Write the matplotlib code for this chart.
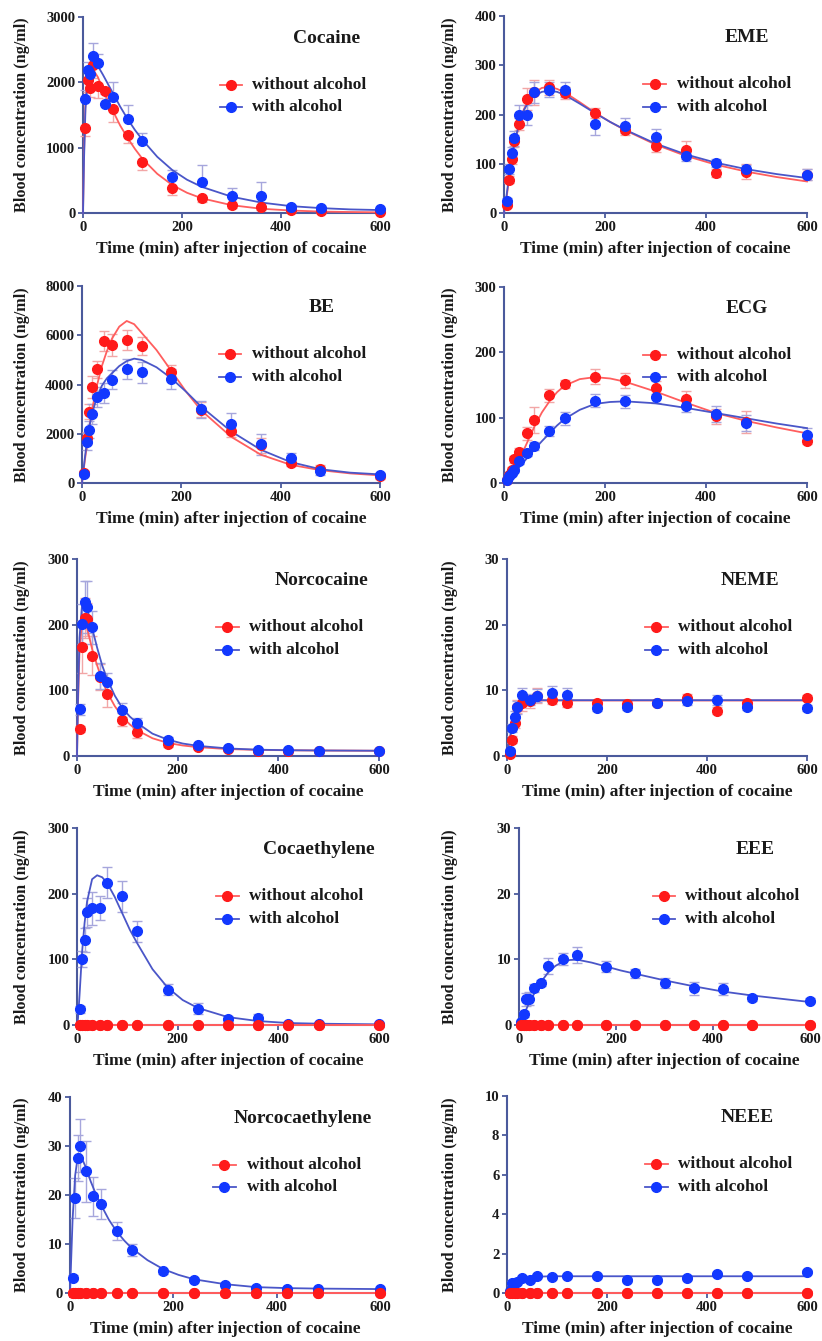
import matplotlib
matplotlib.use("Agg")
import matplotlib.pyplot as plt

plt.rcParams["font.family"] = ["Liberation Serif", "DejaVu Serif"]
plt.rcParams["font.weight"] = "bold"

# ── Sampling times (min) ─────────────────────────────────────────────────────
T = [5, 10, 15, 20, 30, 45, 60, 90, 120, 180, 240, 300, 360, 420, 480, 600]
CURVE_T = [0, 2, 5, 10, 15, 20, 30, 40, 50, 60, 75, 90, 105, 120, 150, 180,
           210, 240, 300, 360, 420, 480, 540, 600]

ZERO16 = [0] * 16
ZERO24 = [0] * 24

# ── Cocaine ──────────────────────────────────────────────────────────────────
COC_NO = [1300, 2030, 1920, 2260, 1940, 1870, 1590, 1195, 780, 380, 230, 130, 90, 40, 25, 10]
COC_NO_ERR = [120, 180, 150, 200, 180, 180, 200, 130, 120, 100, 60, 50, 40, 30, 20, 10]
COC_AL = [1740, 2190, 2125, 2400, 2290, 1670, 1780, 1435, 1100, 550, 480, 265, 265, 90, 75, 60]
COC_AL_ERR = [150, 120, 130, 200, 150, 150, 230, 215, 130, 110, 257, 115, 205, 30, 30, 20]
COC_NO_FIT = [0, 900, 1700, 2100, 2220, 2200, 2080, 1900, 1730, 1570, 1340, 1150,
              980, 830, 600, 430, 310, 225, 120, 65, 38, 22, 15, 10]
COC_AL_FIT = [0, 800, 1600, 2050, 2250, 2300, 2250, 2120, 1980, 1840, 1630, 1440,
              1270, 1120, 860, 660, 510, 400, 250, 160, 105, 75, 55, 45]

# ── EME ──────────────────────────────────────────────────────────────────────
EME_NO = [17, 68, 109, 147, 181, 231, 245, 255, 243, 203, 169, 136, 128, 81, 84, 78]
EME_NO_ERR = [5, 8, 10, 12, 12, 22, 25, 15, 12, 10, 10, 12, 18, 8, 15, 12]
EME_AL = [25, 89, 122, 152, 199, 199, 245, 250, 250, 180, 177, 155, 116, 101, 89, 78]
EME_AL_ERR = [5, 10, 12, 15, 20, 20, 22, 15, 15, 22, 15, 15, 10, 8, 8, 12]
EME_NO_FIT = [0, 12, 30, 70, 105, 135, 180, 212, 232, 244, 254, 256,
              252, 245, 225, 204, 185, 168, 139, 116, 98, 84, 73, 64]
EME_AL_FIT = [0, 15, 35, 75, 110, 140, 182, 210, 228, 238, 246, 248,
              246, 240, 222, 203, 185, 169, 141, 119, 102, 89, 79, 71]

# ── BE ───────────────────────────────────────────────────────────────────────
BE_NO = [400, 1830, 2890, 3900, 4610, 5760, 5590, 5800, 5560, 4490, 2980, 2120, 1530, 830, 580, 270]
BE_NO_ERR = [100, 250, 300, 450, 350, 400, 450, 400, 350, 300, 300, 250, 300, 150, 150, 100]
BE_AL = [380, 1670, 2170, 2790, 3500, 3660, 4200, 4620, 4490, 4230, 3000, 2410, 1570, 1000, 490, 310]
BE_AL_ERR = [100, 350, 350, 400, 400, 400, 400, 400, 420, 400, 350, 420, 420, 200, 150, 100]
BE_NO_FIT = [0, 300, 800, 1550, 2300, 2950, 3950, 4750, 5350, 5850, 6350, 6580,
             6450, 6100, 5400, 4550, 3700, 2950, 1880, 1150, 740, 520, 390, 310]
BE_AL_FIT = [0, 350, 900, 1700, 2300, 2800, 3500, 3950, 4250, 4450, 4750, 4950,
             5050, 5000, 4700, 4250, 3700, 3100, 2100, 1350, 850, 560, 420, 350]

# ── ECG ──────────────────────────────────────────────────────────────────────
ECG_NO = [5, 13, 20, 36, 47, 76, 96, 134, 151, 163, 157, 146, 128, 102, 93, 65]
ECG_NO_ERR = [2, 3, 4, 5, 6, 10, 20, 10, 6, 12, 12, 10, 13, 12, 17, 5]
ECG_AL = [4, 10, 15, 20, 34, 46, 57, 80, 99, 126, 125, 132, 118, 106, 92, 74]
ECG_AL_ERR = [2, 2, 3, 3, 5, 5, 6, 8, 10, 10, 10, 10, 10, 12, 12, 10]
ECG_NO_FIT = [0, 2, 5, 10, 16, 22, 37, 52, 69, 86, 108, 125,
              139, 149, 159, 162, 160, 155, 140, 123, 107, 95, 85, 76]
ECG_AL_FIT = [0, 1, 3, 6, 10, 14, 24, 33, 42, 51, 64, 76,
              88, 98, 112, 121, 124, 125, 122, 115, 107, 99, 91, 84]

# ── Norcocaine ───────────────────────────────────────────────────────────────
NCOC_NO = [41, 166, 210, 208, 153, 120, 94, 55, 36, 19, 13, 10, 8, 8, 8, 8]
NCOC_NO_ERR = [5, 40, 30, 25, 30, 20, 20, 10, 8, 5, 3, 2, 2, 1, 1, 1]
NCOC_AL = [71, 201, 234, 227, 196, 122, 112, 70, 50, 24, 16, 12, 9, 9, 8, 8]
NCOC_AL_ERR = [8, 30, 32, 40, 25, 20, 15, 10, 8, 5, 3, 2, 2, 1, 1, 1]
NCOC_NO_FIT = [0, 80, 160, 205, 208, 195, 163, 138, 115, 97, 76, 60,
               48, 39, 27, 20, 16, 13.5, 10.5, 9.3, 8.7, 8.4, 8.2, 8]
NCOC_AL_FIT = [0, 90, 180, 230, 236, 225, 195, 165, 138, 117, 92, 73,
               60, 50, 34, 25, 19, 15.5, 11.5, 9.6, 8.8, 8.4, 8.2, 8]

# ── NEME ─────────────────────────────────────────────────────────────────────
NEME_NO = [0.3, 2.5, 5.1, 7.5, 8.1, 8.3, 9.2, 8.6, 8.0, 8.1, 7.9, 8.1, 8.9, 6.9, 8.1, 8.9]
NEME_NO_ERR = [0.3, 0.5, 0.8, 1.0, 1.2, 1.0, 1.2, 0.7, 0.5, 0.5, 0.5, 0.4, 0.6, 0.5, 0.4, 0.4]
NEME_AL = [0.8, 4.2, 6.0, 7.4, 9.3, 8.6, 9.2, 9.6, 9.3, 7.3, 7.5, 8.1, 8.3, 8.5, 7.4, 7.3]
NEME_AL_ERR = [0.3, 0.6, 0.8, 1.0, 1.0, 0.8, 1.0, 1.1, 1.0, 0.5, 0.5, 0.4, 0.6, 0.8, 0.4, 0.4]
NEME_NO_FIT = [0, 1.0, 2.2, 4.2, 5.8, 6.9, 7.9, 8.3, 8.4, 8.45, 8.45, 8.45,
               8.45, 8.45, 8.45, 8.45, 8.45, 8.45, 8.45, 8.45, 8.45, 8.45, 8.45, 8.45]
NEME_AL_FIT = [0, 1.1, 2.5, 4.5, 6.1, 7.1, 8.0, 8.35, 8.45, 8.5, 8.5, 8.5,
               8.5, 8.5, 8.5, 8.5, 8.5, 8.5, 8.5, 8.5, 8.5, 8.5, 8.5, 8.5]

# ── Cocaethylene ─────────────────────────────────────────────────────────────
CE_AL = [24, 100, 129, 172, 178, 178, 217, 196, 143, 54, 25, 9, 10, 1.5, 1, 1]
CE_AL_ERR = [5, 12, 18, 22, 25, 18, 24, 24, 16, 8, 8, 4, 6, 2, 1, 1]
CE_AL_FIT = [0, 10, 45, 110, 155, 188, 222, 228, 225, 216, 195, 170,
             145, 124, 85, 57, 38, 26, 12, 6, 3, 2, 1.5, 1]

# ── EEE ──────────────────────────────────────────────────────────────────────
EEE_AL = [0.4, 1.7, 3.9, 4.0, 5.6, 6.4, 9.0, 10.1, 10.7, 8.9, 7.9, 6.4, 5.6, 5.5, 4.1, 3.7]
EEE_AL_ERR = [0.3, 0.5, 1.0, 1.0, 0.6, 0.5, 1.2, 0.9, 1.2, 0.8, 0.7, 0.8, 1.0, 0.9, 0.4, 0.4]
EEE_AL_FIT = [0, 0.3, 0.8, 1.6, 2.4, 3.2, 4.6, 5.9, 7.0, 8.0, 9.0, 9.6,
              9.9, 9.95, 9.5, 8.9, 8.3, 7.8, 6.8, 5.9, 5.1, 4.5, 4.0, 3.5]

# ── Norcocaethylene ──────────────────────────────────────────────────────────
NCE_AL = [3.1, 19.4, 27.6, 30.1, 24.8, 19.7, 18.2, 12.6, 8.8, 4.4, 2.6, 1.7, 1.0, 0.8, 0.8, 0.8]
NCE_AL_ERR = [0.5, 4.0, 4.7, 5.4, 6.3, 3.9, 3.1, 1.8, 1.2, 0.6, 0.4, 0.3, 0.2, 0.1, 0.1, 0.1]
NCE_AL_FIT = [0, 6, 15, 24, 27.8, 28.2, 25.8, 22.8, 20.2, 18.0, 15.0, 12.6,
              10.7, 9.1, 6.7, 4.9, 3.7, 2.8, 1.8, 1.2, 1.0, 0.9, 0.85, 0.8]

# ── NEEE ─────────────────────────────────────────────────────────────────────
NEEE_AL = [0.12, 0.5, 0.5, 0.55, 0.76, 0.64, 0.88, 0.8, 0.88, 0.88, 0.68, 0.68, 0.76, 0.98, 0.88, 1.06]
NEEE_AL_ERR = [0.05, 0.1, 0.1, 0.1, 0.1, 0.1, 0.1, 0.1, 0.1, 0.1, 0.1, 0.1, 0.1, 0.1, 0.1, 0.1]
NEEE_AL_FIT = [0, 0.06, 0.15, 0.32, 0.45, 0.55, 0.68, 0.76, 0.80, 0.82, 0.84, 0.85,
               0.85, 0.85, 0.85, 0.85, 0.85, 0.85, 0.85, 0.85, 0.85, 0.85, 0.85, 0.85]

# (title, ymax, ystep, no, no_err, no_fit, al, al_err, al_fit)
PANELS = [
    ("Cocaine", 3000, 1000, COC_NO, COC_NO_ERR, COC_NO_FIT, COC_AL, COC_AL_ERR, COC_AL_FIT),
    ("EME", 400, 100, EME_NO, EME_NO_ERR, EME_NO_FIT, EME_AL, EME_AL_ERR, EME_AL_FIT),
    ("BE", 8000, 2000, BE_NO, BE_NO_ERR, BE_NO_FIT, BE_AL, BE_AL_ERR, BE_AL_FIT),
    ("ECG", 300, 100, ECG_NO, ECG_NO_ERR, ECG_NO_FIT, ECG_AL, ECG_AL_ERR, ECG_AL_FIT),
    ("Norcocaine", 300, 100, NCOC_NO, NCOC_NO_ERR, NCOC_NO_FIT, NCOC_AL, NCOC_AL_ERR, NCOC_AL_FIT),
    ("NEME", 30, 10, NEME_NO, NEME_NO_ERR, NEME_NO_FIT, NEME_AL, NEME_AL_ERR, NEME_AL_FIT),
    ("Cocaethylene", 300, 100, ZERO16, ZERO16, ZERO24, CE_AL, CE_AL_ERR, CE_AL_FIT),
    ("EEE", 30, 10, ZERO16, ZERO16, ZERO24, EEE_AL, EEE_AL_ERR, EEE_AL_FIT),
    ("Norcocaethylene", 40, 10, ZERO16, ZERO16, ZERO24, NCE_AL, NCE_AL_ERR, NCE_AL_FIT),
    ("NEEE", 10, 2, ZERO16, ZERO16, ZERO24, NEEE_AL, NEEE_AL_ERR, NEEE_AL_FIT),
]

# ── Layout (pixels: x at t=0, x at t=600, y top, y bottom) ───────────────────
W, H = 822, 1341
BOXES = [
    (83, 380, 17, 213), (504, 807, 16, 213),
    (82, 380, 286, 483), (504, 807, 287, 483),
    (77, 379, 559, 756), (507, 807, 559, 756),
    (77, 379, 828, 1025), (519, 810, 828, 1025),
    (70, 380, 1097, 1293), (507, 807, 1096, 1293),
]
TITLE_X = [0.82, 0.80, 0.805, 0.80, 0.81, 0.81, 0.80, 0.81, 0.75, 0.80]
YLABEL_PX = [30, 458]   # right edge of rotated y label, per column

AXIS_C = "#4b5a9c"
RED, BLUE = "#ff1a1a", "#1238ff"
RED_FIT, BLUE_FIT = "#ff5e5e", "#4a56c8"
RED_ERR, BLUE_ERR = "#f2a6a6", "#a6a6dc"
TXT = "#1a1a1a"

fig = plt.figure(figsize=(W / 100, H / 100), dpi=100)
fig.patch.set_facecolor("white")


def legend_row(ax, y, mcolor, lcolor, label):
    ax.plot([0.46, 0.535], [y, y], transform=ax.transAxes, color=lcolor, lw=1.3, clip_on=False)
    ax.plot([0.4975], [y], "o", transform=ax.transAxes, color=mcolor, ms=7, mec=mcolor, clip_on=False)
    ax.text(0.57, y, label, transform=ax.transAxes, ha="left", va="center",
            fontsize=12.5, fontweight="bold", color=TXT)


for i, (title, ymax, ystep, no, no_err, no_fit, al, al_err, al_fit) in enumerate(PANELS):
    x0, x1, yt, yb = BOXES[i]
    w_px, h_px = x1 - x0, yb - yt
    ax = fig.add_axes([x0 / W, 1 - yb / H, w_px / W, h_px / H])

    # Cocaine panel shows one-sided bars (red below, blue above)
    if title == "Cocaine":
        no_yerr = [no_err, [0] * len(no_err)]
        al_yerr = [[0] * len(al_err), al_err]
    else:
        no_yerr, al_yerr = no_err, al_err

    for vals, err, col in [(no, no_yerr, RED_ERR), (al, al_yerr, BLUE_ERR)]:
        eb = ax.errorbar(T, vals, yerr=err, fmt="none", ecolor=col, elinewidth=1,
                         capsize=3.5, capthick=1, zorder=2)
        for child in eb.get_children():
            child.set_clip_on(False)

    ax.plot(CURVE_T, no_fit, color=RED_FIT, lw=1.3, zorder=3, clip_on=False)
    ax.plot(CURVE_T, al_fit, color=BLUE_FIT, lw=1.3, zorder=3, clip_on=False)
    ax.plot(T, no, "o", color=RED, ms=7, mec=RED, zorder=4, clip_on=False)
    ax.plot(T, al, "o", color=BLUE, ms=7, mec=BLUE, zorder=5, clip_on=False)
    if title in ("Cocaethylene", "EEE", "Norcocaethylene", "NEEE"):
        # red points sit on the baseline and are drawn above the blue ones there
        ax.plot(T, no, "o", color=RED, ms=7, mec=RED, zorder=6, clip_on=False)
        ax.plot(CURVE_T, no_fit, color=RED_FIT, lw=1.3, zorder=5.5, clip_on=False)

    ax.set_xlim(0, 600)
    ax.set_ylim(0, ymax)
    ax.set_xticks([0, 200, 400, 600])
    ax.set_yticks(list(range(0, ymax + 1, ystep)))

    for s in ("top", "right"):
        ax.spines[s].set_visible(False)
    for s in ("left", "bottom"):
        ax.spines[s].set_color(AXIS_C)
        ax.spines[s].set_linewidth(1.5)
        ax.spines[s].set_zorder(1)
    ax.tick_params(direction="out", length=3.5, width=1.3, color=AXIS_C,
                   labelsize=10.5, labelcolor=TXT, pad=2)
    for lab in ax.get_xticklabels() + ax.get_yticklabels():
        lab.set_fontweight("bold")

    ax.set_xlabel("Time (min) after injection of cocaine", fontsize=12.5,
                  fontweight="bold", color=TXT)
    ax.xaxis.set_label_coords(0.5, -28 / h_px)
    ax.set_ylabel("Blood concentration (ng/ml)", fontsize=11.7,
                  fontweight="bold", color=TXT)
    ax.yaxis.set_label_coords((YLABEL_PX[i % 2] - x0) / w_px, 0.5)

    ax.text(TITLE_X[i], 0.89, title, transform=ax.transAxes, ha="center", va="center",
            fontsize=14, fontweight="bold", color=TXT)

    legend_row(ax, 0.655, RED, RED_FIT, "without alcohol")
    legend_row(ax, 0.54, BLUE, BLUE_FIT, "with alcohol")

fig.savefig("out.png", dpi=100, facecolor="white")
